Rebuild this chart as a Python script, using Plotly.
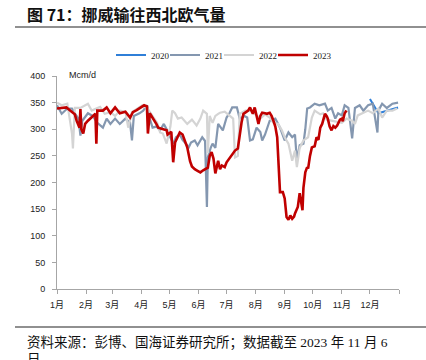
import plotly.graph_objects as go

# ---- data (x = day of year, y = Mcm/d) ----
d2020 = [334, 336, 338, 343, 347, 352, 358, 364]
v2020 = [357, 350, 345, 330, 332, 335, 338, 341]

d2021 = [0, 5, 11, 16, 19, 23, 25, 27, 33, 38, 43, 49, 53, 57, 62, 67, 73, 78, 80, 82, 88, 92, 96, 99,
         102, 106, 110, 114, 117, 121, 124, 127, 131, 134, 139, 140, 143, 147, 150, 155, 158, 160, 161,
         164, 166, 169, 172, 177, 181, 184, 187, 192, 195, 200, 203, 206, 209, 213, 217, 219, 222, 227,
         233, 236, 238, 243, 247, 251, 254, 256, 259, 263, 265, 267, 270, 275, 280, 286, 289, 293, 297,
         300, 304, 307, 311, 315, 318, 323, 327, 332, 337, 342, 343, 347, 352, 358, 364]
v2021 = [345, 329, 339, 339, 330, 320, 288, 316, 330, 325, 312, 303, 320, 310, 320, 310, 320, 312, 279, 325,
         330, 335, 345, 320, 303, 305, 298, 310, 300, 285, 273, 285, 290, 280, 270, 264, 275, 279, 270,
         285, 278, 154, 247, 265, 273, 265, 310, 298, 322, 330, 341, 341, 320, 325, 322, 279, 281, 303,
         295, 279, 290, 316, 320, 310, 303, 279, 294, 285, 290, 241, 270, 273, 300, 339, 341, 348, 345,
         348, 335, 340, 320, 330, 326, 345, 340, 283, 340, 345, 335, 345, 348, 294, 335, 348, 340, 348, 350]

d2022 = [0, 5, 11, 14, 16, 17, 19, 25, 30, 33, 37, 41, 46, 51, 57, 62, 67, 73, 76, 80, 85, 91, 97, 102,
         107, 110, 113, 117, 121, 123, 126, 129, 133, 139, 144, 149, 153, 156, 160, 161, 163, 166, 169,
         172, 174, 179, 185, 188, 190, 193, 195, 201, 206, 211, 217, 222, 227, 231, 236, 240, 243, 247,
         251, 254, 256, 259, 263, 268, 272, 275, 281, 284, 288, 293, 299, 304, 309, 315, 318, 321, 327,
         332, 337, 343, 347, 352, 358, 363]
v2022 = [350, 345, 348, 316, 292, 264, 340, 340, 345, 348, 335, 338, 342, 329, 332, 325, 335, 333, 303, 332,
         338, 345, 338, 325, 312, 294, 292, 273, 305, 335, 330, 320, 322, 310, 318, 307, 320, 335, 329,
         255, 325, 312, 325, 329, 331, 333, 325, 320, 247, 250, 329, 335, 335, 329, 320, 328, 322, 312,
         310, 298, 285, 273, 241, 260, 229, 265, 279, 285, 322, 335, 328, 330, 318, 316, 314, 312, 320,
         316, 310, 326, 331, 335, 330, 339, 322, 335, 335, 339]

d2023 = [0, 5, 10, 14, 19, 21, 24, 25, 26, 28, 30, 33, 37, 41, 42, 43, 49, 53, 57, 62, 67, 73, 78, 81,
         85, 89, 93, 96, 97, 99, 102, 106, 108, 113, 117, 118, 122, 124, 126, 131, 134, 139, 142, 144,
         147, 150, 153, 156, 158, 161, 163, 165, 167, 169, 172, 174, 176, 179, 181, 185, 188, 190, 193,
         195, 197, 199, 202, 204, 206, 209, 211, 213, 215, 217, 219, 222, 224, 227, 229, 231, 233, 235,
         236, 237, 238, 240, 241, 243, 245, 247, 249, 251, 253, 254, 256, 257, 259, 261, 262, 263, 265,
         267, 268, 270, 272, 275, 277, 279, 281, 283, 286, 288, 289, 291, 293, 295, 297, 299, 300, 302,
         304, 305, 307, 309]
v2023 = [339, 340, 341, 335, 328, 316, 303, 338, 300, 292, 310, 316, 322, 329, 273, 335, 335, 341, 330,
         341, 330, 333, 322, 332, 336, 341, 345, 343, 292, 330, 322, 310, 303, 300, 298, 290, 295, 238,
         275, 294, 290, 266, 240, 230, 225, 222, 219, 223, 225, 228, 250, 257, 245, 217, 241, 225, 232,
         229, 238, 247, 255, 260, 264, 290, 313, 329, 333, 335, 341, 329, 341, 325, 310, 325, 331, 330,
         329, 331, 325, 316, 305, 285, 241, 200, 182, 182, 182, 170, 135, 130, 138, 132, 136, 142, 150,
         154, 180, 160, 148, 190, 219, 229, 226, 250, 266, 268, 285, 280, 303, 310, 329, 324, 320, 305,
         298, 306, 303, 307, 310, 318, 320, 315, 330, 335]

month_ticks = [0, 31, 59, 90, 120, 151, 181, 212, 243, 273, 304, 334, 365]
month_labels = ["1月", "2月", "3月", "4月", "5月", "6月", "7月", "8月", "9月", "10月", "11月", "12月", ""]
y_ticks = [0, 50, 100, 150, 200, 250, 300, 350, 400]

series = [
    ("2020", d2020, v2020, "#2F7FD8", 2),
    ("2021", d2021, v2021, "#8497B0", 2.2),
    ("2022", d2022, v2022, "#D4D4D4", 2.2),
    ("2023", d2023, v2023, "#C00000", 2.6),
]

fig = go.Figure()
for name, xs, ys, col, w in series:
    fig.add_trace(go.Scatter(x=xs, y=ys, mode="lines", name=name,
                             line=dict(color=col, width=w)))
# empty spacer entry so the last legend label is not clipped
fig.add_trace(go.Scatter(x=[None], y=[None], mode="lines", name=" ",
                         line=dict(color="rgba(0,0,0,0)", width=0), hoverinfo="skip"))

L, R, T, B = 57, 27, 76, 71
W, H = 426, 360
pw, ph = W - L - R, H - T - B

def px(x):
    return (x - L) / pw

def py(y):
    return (H - B - y) / ph

CJK = "Liberation Sans, Noto Sans CJK SC"
SERIF = "Liberation Serif, Noto Sans CJK SC"

fig.update_layout(
    width=W, height=H,
    margin=dict(l=L, r=R, t=T, b=B),
    paper_bgcolor="white", plot_bgcolor="white",
    showlegend=True,
    legend=dict(orientation="h", x=px(111), xanchor="left", y=py(55), yanchor="middle",
                font=dict(family=SERIF, size=9, color="#222"),
                bgcolor="rgba(0,0,0,0)", itemwidth=30, entrywidth=9, entrywidthmode="pixels",
                traceorder="normal"),
    xaxis=dict(range=[0, 365], tickmode="array", tickvals=month_ticks, ticktext=month_labels,
               showgrid=False, zeroline=False, showline=True, linecolor="#A6A6A6", linewidth=1,
               ticks="outside", ticklen=4, tickcolor="#A6A6A6", ticklabelstandoff=3,
               tickfont=dict(family=CJK, size=9, color="#222")),
    yaxis=dict(range=[0, 400], tickmode="array", tickvals=y_ticks,
               showgrid=False, zeroline=False, showline=True, linecolor="#A6A6A6", linewidth=1,
               ticks="outside", ticklen=4, tickcolor="#A6A6A6", ticklabelstandoff=5,
               tickfont=dict(family="Liberation Sans", size=9, color="#222")),
    shapes=[
        dict(type="line", xref="paper", yref="paper", x0=px(15), x1=px(426), y0=py(27), y1=py(27),
             line=dict(color="#222", width=1.2)),
        dict(type="line", xref="paper", yref="paper", x0=px(15), x1=px(426), y0=py(327), y1=py(327),
             line=dict(color="#222", width=1.2)),
    ],
    annotations=[
        dict(text="<b>图 71：挪威输往西北欧气量</b>", xref="paper", yref="paper", x=px(25), y=py(14),
             xanchor="left", yanchor="middle", showarrow=False,
             font=dict(family="Noto Sans CJK SC", size=16, color="#111")),
        dict(text="Mcm/d", xref="paper", yref="paper", x=px(67), y=py(75), xanchor="left",
             yanchor="middle", showarrow=False,
             font=dict(family="Liberation Sans", size=9, color="#222")),
        dict(text="资料来源：彭博、国海证券研究所；数据截至 2023 年 11 月 6", xref="paper", yref="paper",
             x=px(25), y=py(342), xanchor="left", yanchor="middle", showarrow=False,
             font=dict(family=SERIF, size=13.5, color="#111")),
        dict(text="日", xref="paper", yref="paper",
             x=px(25), y=py(359), xanchor="left", yanchor="middle", showarrow=False,
             font=dict(family=SERIF, size=13.5, color="#111")),
    ],
)

fig.write_html("out.html", config={"displayModeBar": False},
               post_script="document.body.style.margin='0';")
